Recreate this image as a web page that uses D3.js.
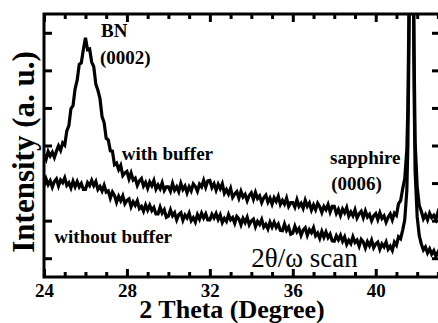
<!DOCTYPE html>
<html>
<head>
<meta charset="utf-8">
<script src="https://cdn.jsdelivr.net/npm/d3@7"></script>
<style>
  body { margin: 0; background: #fff; }
  svg { display: block; }
</style>
</head>
<body>
<div id="chart"></div>
<script>
// 2theta grid (degrees), finer around the sapphire peak
const theta = [
  24.0, 24.1, 24.2, 24.3, 24.4, 24.5, 24.6, 24.7, 24.8, 24.9,
  25.0, 25.1, 25.2, 25.3, 25.4, 25.5, 25.6, 25.7, 25.8, 25.9,
  26.0, 26.1, 26.2, 26.3, 26.4, 26.5, 26.6, 26.7, 26.8, 26.9,
  27.0, 27.1, 27.2, 27.3, 27.4, 27.5, 27.6, 27.7, 27.8, 27.9,
  28.0, 28.1, 28.2, 28.3, 28.4, 28.5, 28.6, 28.7, 28.8, 28.9,
  29.0, 29.1, 29.2, 29.3, 29.4, 29.5, 29.6, 29.7, 29.8, 29.9,
  30.0, 30.1, 30.2, 30.3, 30.4, 30.5, 30.6, 30.7, 30.8, 30.9,
  31.0, 31.1, 31.2, 31.3, 31.4, 31.5, 31.6, 31.7, 31.8, 31.9,
  32.0, 32.1, 32.2, 32.3, 32.4, 32.5, 32.6, 32.7, 32.8, 32.9,
  33.0, 33.1, 33.2, 33.3, 33.4, 33.5, 33.6, 33.7, 33.8, 33.9,
  34.0, 34.1, 34.2, 34.3, 34.4, 34.5, 34.6, 34.7, 34.8, 34.9,
  35.0, 35.1, 35.2, 35.3, 35.4, 35.5, 35.6, 35.7, 35.8, 35.9,
  36.0, 36.1, 36.2, 36.3, 36.4, 36.5, 36.6, 36.7, 36.8, 36.9,
  37.0, 37.1, 37.2, 37.3, 37.4, 37.5, 37.6, 37.7, 37.8, 37.9,
  38.0, 38.1, 38.2, 38.3, 38.4, 38.5, 38.6, 38.7, 38.8, 38.9,
  39.0, 39.1, 39.2, 39.3, 39.4, 39.5, 39.6, 39.7, 39.8, 39.9,
  40.0, 40.1, 40.2, 40.3, 40.4, 40.5, 40.6, 40.7, 40.8, 40.9,
  41.0, 41.1, 41.2,
  41.3, 41.4, 41.5, 41.55, 41.6, 41.65, 41.7, 41.75, 41.8, 41.85, 41.9, 42.0, 42.1,
  42.2, 42.3, 42.4, 42.5, 42.6, 42.7, 42.8, 42.9, 43.0, 43.1, 43.2
];

// intensity, arbitrary units (noise included)
const withBuffer = [
  3.26, 3.13, 3.34, 3.22, 3.32, 3.18, 3.35, 3.49, 3.37, 3.57,
  3.51, 3.89, 4.03, 4.48, 4.56, 5.01, 5.24, 5.66, 5.70, 6.06,
  6.37, 6.05, 6.07, 5.72, 5.60, 5.13, 4.97, 4.75, 4.27, 4.11,
  3.69, 3.65, 3.36, 3.35, 2.99, 3.03, 2.86, 2.97, 2.70, 2.77,
  2.81, 2.61, 2.77, 2.58, 2.63, 2.44, 2.56, 2.62, 2.42, 2.52,
  2.36, 2.53, 2.43, 2.57, 2.34, 2.45, 2.35, 2.51, 2.30, 2.40,
  2.40, 2.28, 2.49, 2.31, 2.40, 2.27, 2.49, 2.33, 2.42, 2.24,
  2.40, 2.29, 2.48, 2.41, 2.28, 2.47, 2.40, 2.57, 2.39, 2.56,
  2.57, 2.38, 2.48, 2.31, 2.47, 2.35, 2.48, 2.23, 2.33, 2.21,
  2.36, 2.12, 2.21, 2.27, 2.10, 2.28, 2.13, 2.20, 2.03, 2.17,
  2.24, 2.07, 2.25, 2.09, 2.16, 1.98, 2.11, 2.18, 1.99, 2.10,
  1.94, 2.11, 2.01, 2.15, 1.93, 2.04, 1.94, 2.10, 1.88, 1.98,
  1.98, 1.86, 2.06, 1.88, 1.96, 1.83, 2.04, 1.88, 1.97, 1.78,
  1.92, 1.79, 1.96, 1.87, 1.72, 1.88, 1.79, 1.93, 1.73, 1.88,
  1.88, 1.69, 1.80, 1.64, 1.81, 1.71, 1.85, 1.62, 1.73, 1.63,
  1.79, 1.57, 1.68, 1.75, 1.58, 1.76, 1.60, 1.67, 1.50, 1.63,
  1.69, 1.53, 1.71, 1.56, 1.63, 1.46, 1.59, 1.68, 1.52, 1.70,
  1.64, 1.95, 2.03,
  2.35, 2.62, 3.40, 4.50, 7.00, 10.0, 11.0, 11.0, 10.0, 6.00, 3.60, 2.40, 1.90,
  1.75, 1.55, 1.66, 1.52, 1.70, 1.58, 1.64, 1.53, 1.72, 1.60, 1.67
];

const withoutBuffer = [
  2.42, 2.61, 2.46, 2.56, 2.39, 2.54, 2.61, 2.42, 2.58, 2.51,
  2.64, 2.44, 2.51, 2.37, 2.55, 2.40, 2.54, 2.40, 2.49, 2.33,
  2.33, 2.51, 2.43, 2.57, 2.43, 2.54, 2.33, 2.41, 2.29, 2.44,
  2.26, 2.29, 2.10, 2.26, 2.17, 1.99, 2.15, 2.03, 2.16, 1.95,
  2.04, 2.08, 1.87, 2.00, 1.91, 2.03, 1.82, 1.88, 1.75, 1.92,
  1.78, 1.91, 1.77, 1.85, 1.68, 1.68, 1.86, 1.70, 1.79, 1.59,
  1.62, 1.79, 1.63, 1.71, 1.52, 1.66, 1.71, 1.51, 1.65, 1.57,
  1.70, 1.50, 1.58, 1.46, 1.66, 1.54, 1.70, 1.57, 1.68, 1.52,
  1.52, 1.67, 1.57, 1.69, 1.53, 1.65, 1.45, 1.56, 1.48, 1.66,
  1.52, 1.58, 1.43, 1.61, 1.55, 1.39, 1.56, 1.45, 1.59, 1.39,
  1.49, 1.54, 1.34, 1.48, 1.40, 1.53, 1.33, 1.40, 1.28, 1.46,
  1.33, 1.46, 1.32, 1.41, 1.24, 1.23, 1.41, 1.24, 1.33, 1.14,
  1.17, 1.35, 1.20, 1.29, 1.11, 1.25, 1.31, 1.11, 1.26, 1.18,
  1.31, 1.10, 1.17, 1.03, 1.21, 1.06, 1.20, 1.05, 1.14, 0.96,
  0.95, 1.10, 0.99, 1.11, 0.95, 1.07, 0.87, 0.98, 0.89, 1.07,
  0.92, 0.98, 0.82, 1.00, 0.93, 0.77, 0.94, 0.83, 0.98, 0.78,
  0.88, 0.93, 0.74, 0.88, 0.80, 0.93, 0.74, 0.82, 0.71, 0.93,
  0.85, 1.07, 1.02,
  1.25, 1.52, 2.30, 3.50, 6.00, 9.00, 10.0, 10.0, 9.00, 5.00, 2.80, 1.60, 1.10,
  0.88, 0.72, 0.80, 0.64, 0.75, 0.61, 0.70, 0.55, 0.66, 0.52, 0.60
];

const xMajor = [24, 28, 32, 36, 40];
const xMinor = [25, 26, 27, 29, 30, 31, 33, 34, 35, 37, 38, 39, 41, 42, 43];
const yTicks = [0.5, 1.5, 2.5, 3.5, 4.5, 5.5, 6.5];

const serif = "Liberation Serif";

const W = 438, H = 323;
const plot = { left: 44, right: 440, top: 14, bottom: 277 };

const svg = d3.select("#chart").append("svg")
  .attr("width", W)
  .attr("height", H);

const x = d3.scaleLinear().domain([24, 43.1]).range([plot.left, plot.right]);
const y = d3.scaleLinear().domain([0, 7]).range([plot.bottom, plot.top]);

svg.append("clipPath").attr("id", "clip")
  .append("rect")
  .attr("x", plot.left).attr("y", plot.top)
  .attr("width", plot.right - plot.left)
  .attr("height", plot.bottom - plot.top);

// curves
const line = d3.line()
  .x(d => x(d[0]))
  .y(d => y(d[1]));

[withBuffer, withoutBuffer].forEach(series => {
  svg.append("path")
    .datum(theta.map((t, i) => [t, series[i]]))
    .attr("clip-path", "url(#clip)")
    .attr("fill", "none")
    .attr("stroke", "#000")
    .attr("stroke-width", 3.2)
    .attr("stroke-linejoin", "miter")
    .attr("d", line);
});

// axes (ticks point inward on all sides)
function styleAxis(g) {
  g.select(".domain").remove();
  g.selectAll(".tick line").attr("stroke", "#000").attr("stroke-width", 3);
}

svg.append("g")
  .attr("transform", "translate(0," + plot.bottom + ")")
  .call(d3.axisBottom(x).tickValues(xMinor).tickSize(-5).tickFormat(""))
  .call(styleAxis);

svg.append("g")
  .attr("transform", "translate(0," + plot.bottom + ")")
  .call(d3.axisBottom(x).tickValues(xMajor).tickSize(-8).tickPadding(7).tickFormat(d3.format("d")))
  .call(styleAxis)
  .attr("font-family", serif)
  .attr("font-size", 19)
  .attr("font-weight", "bold")
  .selectAll("text")
  .attr("fill", "#000");

svg.append("g")
  .attr("transform", "translate(0," + plot.top + ")")
  .call(d3.axisTop(x).tickValues(xMinor).tickSize(-5).tickFormat(""))
  .call(styleAxis);

svg.append("g")
  .attr("transform", "translate(0," + plot.top + ")")
  .call(d3.axisTop(x).tickValues(xMajor).tickSize(-8).tickFormat(""))
  .call(styleAxis);

svg.append("g")
  .attr("transform", "translate(" + plot.left + ",0)")
  .call(d3.axisLeft(y).tickValues(yTicks).tickSize(-8).tickFormat(""))
  .call(styleAxis);

svg.append("g")
  .attr("transform", "translate(" + plot.right + ",0)")
  .call(d3.axisRight(y).tickValues(yTicks).tickSize(-8).tickFormat(""))
  .call(styleAxis);

// frame
svg.append("rect")
  .attr("x", plot.left).attr("y", plot.top)
  .attr("width", plot.right - plot.left)
  .attr("height", plot.bottom - plot.top)
  .attr("fill", "none")
  .attr("stroke", "#000")
  .attr("stroke-width", 3);

// annotations
const labels = [
  { text: "BN", t: 26.75, v: 6.38, size: 19, weight: "bold" },
  { text: "(0002)", t: 26.7, v: 5.66, size: 19, weight: "bold" },
  { text: "with buffer", t: 27.75, v: 3.12, size: 19, weight: "bold" },
  { text: "without buffer", t: 24.5, v: 0.9, size: 19, weight: "bold" },
  { text: "sapphire", t: 37.8, v: 3.0, size: 19, weight: "bold" },
  { text: "(0006)", t: 37.85, v: 2.31, size: 19, weight: "bold" },
  { text: "2\u03b8/\u03c9 scan", t: 34.0, v: 0.27, size: 27, weight: "normal" }
];

svg.selectAll("text.note")
  .data(labels)
  .enter()
  .append("text")
  .attr("class", "note")
  .attr("x", d => x(d.t))
  .attr("y", d => y(d.v))
  .attr("font-family", serif)
  .attr("font-size", d => d.size)
  .attr("font-weight", d => d.weight)
  .text(d => d.text);

// axis titles
svg.append("text")
  .attr("x", 232)
  .attr("y", 318)
  .attr("text-anchor", "middle")
  .attr("font-family", serif)
  .attr("font-size", 26)
  .attr("font-weight", "bold")
  .text("2 Theta (Degree)");

svg.append("text")
  .attr("transform", "translate(34,152) rotate(-90)")
  .attr("text-anchor", "middle")
  .attr("font-family", serif)
  .attr("font-size", 31)
  .attr("font-weight", "bold")
  .text("Intensity (a. u.)");
</script>
</body>
</html>
